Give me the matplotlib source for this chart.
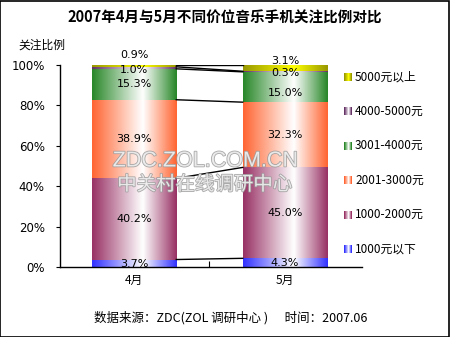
import numpy as np
import matplotlib
matplotlib.use("Agg")
import matplotlib.pyplot as plt
import matplotlib.patheffects as pe
from matplotlib.colors import to_rgb

plt.rcParams['font.family'] = ['Noto Sans CJK SC', 'DejaVu Sans']

months = ["4月", "5月"]
series = ["1000元以下", "1000-2000元", "2001-3000元", "3001-4000元", "4000-5000元", "5000元以上"]
share_apr = [3.7, 40.2, 38.9, 15.3, 1.0, 0.9]
share_may = [4.3, 45.0, 32.3, 15.0, 0.3, 3.1]
edge_colors = ["#3333ff", "#993366", "#ff6633", "#2a882a", "#663366", "#999900"]
mid_colors = ["#ffffff", "#ffffff", "#ffffff", "#ffffff", "#ffffff", "#ffff00"]


def gradient(edge, mid, n=64):
    """horizontal cylinder-like shading: edge -> mid -> edge"""
    t = np.linspace(0, 1, n)
    w = np.where(t < 0.6, t / 0.6, (1 - t) / 0.4)
    e = np.array(to_rgb(edge))
    m = np.array(to_rgb(mid))
    row = e[None, :] * (1 - w[:, None]) + m[None, :] * w[:, None]
    return row[None, :, :]


fig = plt.figure(figsize=(4.5, 3.37), dpi=100)
ax = fig.add_axes([60 / 450, 1 - 267 / 337, 302 / 450, 202 / 337])

width = 0.56
data = [share_apr, share_may]
tops = []
for i, vals in enumerate(data):
    bottom = 0
    cum = []
    for j, v in enumerate(vals):
        ax.imshow(gradient(edge_colors[j], mid_colors[j]),
                  extent=[i - width / 2, i + width / 2, bottom, bottom + v],
                  aspect='auto', interpolation='bilinear', zorder=2)
        bottom += v
        cum.append(bottom)
    tops.append(cum)

# series lines between the two bars
for k in range(len(series)):
    ax.plot([width / 2, 1 - width / 2], [tops[0][k], tops[1][k]],
            color='black', lw=1, zorder=3)

# value labels (the thin top segments get placed by hand)
label_y = {
    0: [None, None, None, None, 97.4, 105.0],
    1: [None, None, None, None, 96.0, 101.8],
}
for i, vals in enumerate(data):
    bottom = 0
    for j, v in enumerate(vals):
        y = label_y[i][j] if label_y[i][j] is not None else bottom + v / 2
        if j == 0:
            y = bottom + v / 2 - 0.4
        if i == 1 and j == 3:
            y = bottom + v / 2 - 3
        ax.text(i, y, f"{v:.1f}%", ha='center', va='center', fontsize=8,
                zorder=5, clip_on=False, family='DejaVu Sans')
        bottom += v

# watermark
wm = [pe.withStroke(linewidth=1.2, foreground='#9a9a9a')]
ax.text(0.47, 52.5, "ZDC.ZOL.COM.CN", ha='center', va='center', fontsize=15.5,
        color='#f4f4f4', alpha=0.85, path_effects=wm, zorder=4,
        family='Liberation Sans')
ax.text(0.47, 40.8, "中关村在线调研中心", ha='center', va='center', fontsize=14,
        color='#f4f4f4', alpha=0.85, path_effects=wm, zorder=4)

ax.set_xlim(-0.49, 1.51)
ax.set_ylim(0, 100)
ax.set_yticks(np.arange(0, 101, 20))
ax.set_yticklabels([f"{t}%" for t in range(0, 101, 20)], fontsize=8.5,
                   family='DejaVu Sans')
ax.set_xticks([0.5])
ax.set_xticklabels([""])
ax.tick_params(axis='x', direction='in', length=4, width=0.8)
ax.tick_params(axis='y', direction='out', length=3, width=0.8, pad=8)
for s in ['top', 'right']:
    ax.spines[s].set_visible(False)
for s in ['left', 'bottom']:
    ax.spines[s].set_linewidth(1)
for i, m in enumerate(months):
    ax.text(i, -6.5, m, ha='center', va='center', fontsize=8.5)

fig.text(0.5, 1 - 18 / 337, "2007年4月与5月不同价位音乐手机关注比例对比",
         ha='center', va='center', fontsize=10.5, fontweight='bold')
fig.text(18 / 450, 1 - 45 / 337, "关注比例", ha='left', va='center', fontsize=8.5)
fig.text(231 / 450, 1 - 318 / 337, "数据来源：ZDC(ZOL 调研中心 )      时间：2007.06",
         ha='center', va='center', fontsize=9)

# legend, top entry first
for k in range(len(series)):
    idx = len(series) - 1 - k
    yc = 77 + k * 34.4
    lax = fig.add_axes([344 / 450, 1 - (yc + 4) / 337, 8 / 450, 8 / 337])
    lax.imshow(gradient(edge_colors[idx], mid_colors[idx], 8), aspect='auto',
               interpolation='nearest')
    lax.axis('off')
    fig.text(355 / 450, 1 - yc / 337, series[idx], ha='left', va='center',
             fontsize=8.5)

fig.patches.append(plt.Rectangle((0.001, 0.001), 0.997, 0.997, transform=fig.transFigure,
                                 fill=False, edgecolor='black', lw=1.2))

fig.savefig("out.png", dpi=100)
